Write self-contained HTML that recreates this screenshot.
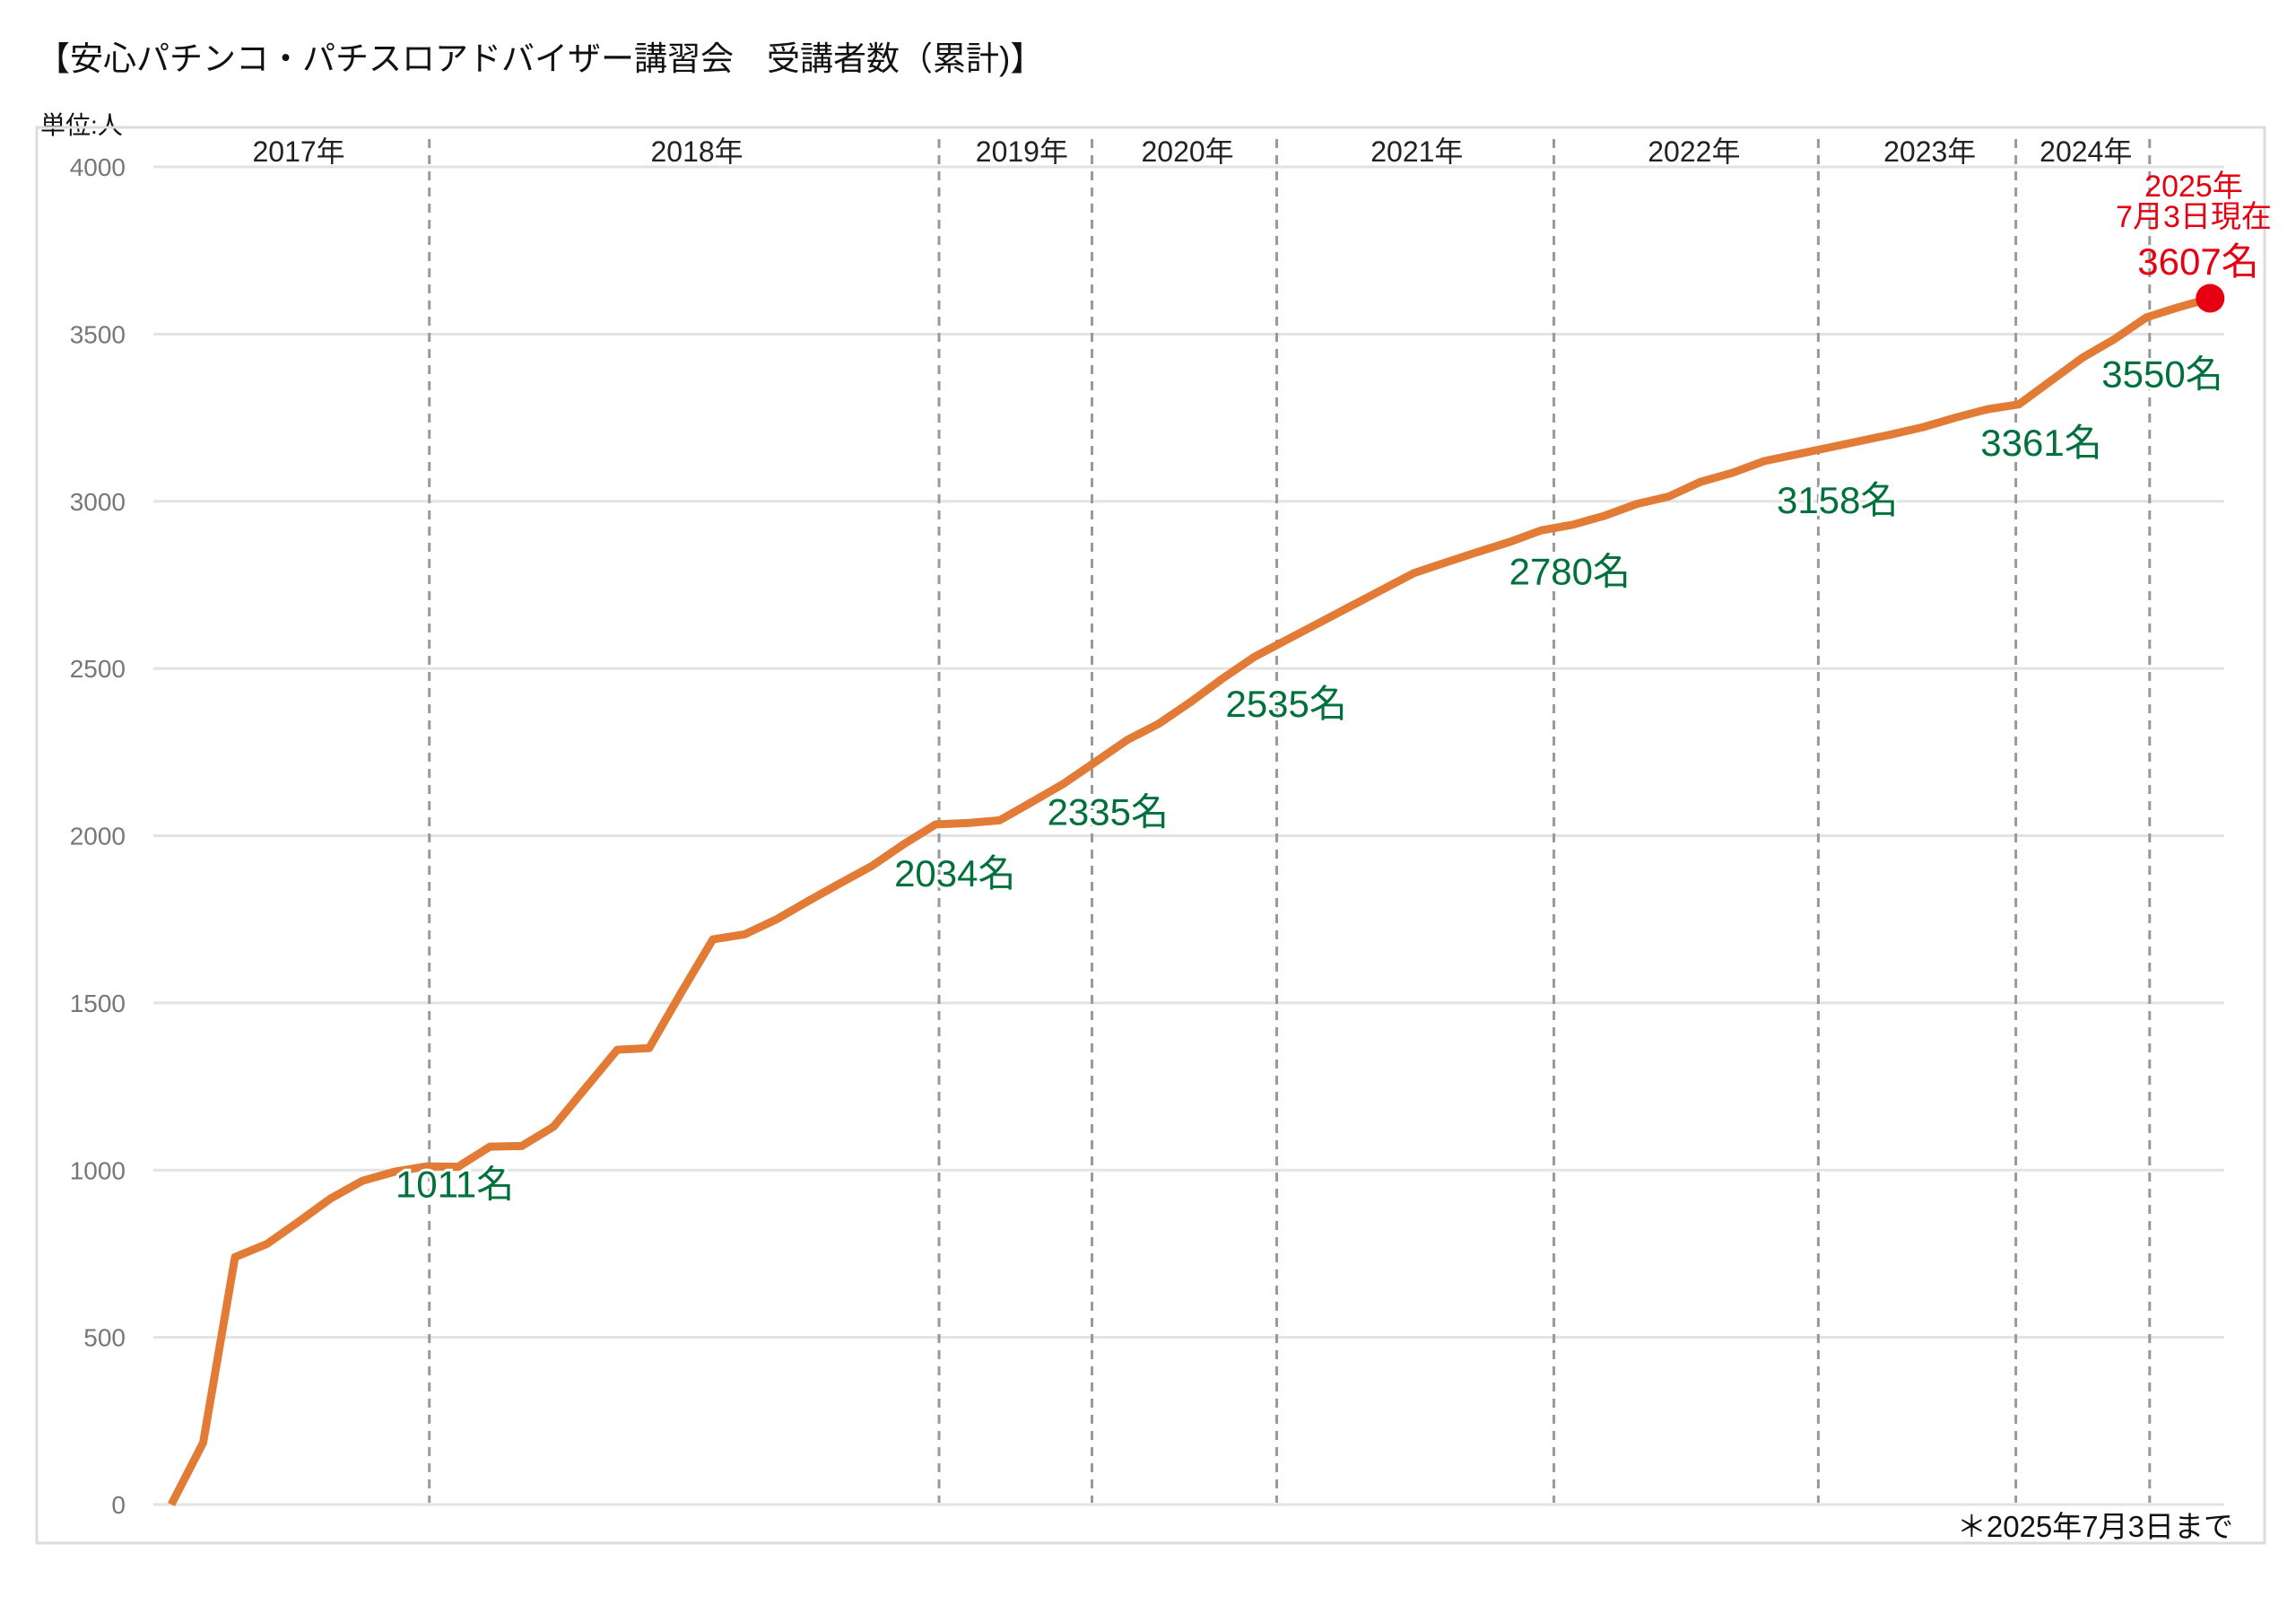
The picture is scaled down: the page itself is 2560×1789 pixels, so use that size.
<!DOCTYPE html>
<html><head><meta charset="utf-8">
<style>
html,body{margin:0;padding:0;background:#fff;}
svg{display:block;font-family:"Liberation Sans","Noto Sans CJK JP",sans-serif;}
</style></head>
<body>
<svg id="chart" width="2560" height="1789" viewBox="0 0 2560 1789">
<text x="41" y="78" font-size="37" fill="#111">【安心パチンコ・パチスロアドバイザー講習会　受講者数（累計)】</text>
<text x="45" y="149" font-size="28" fill="#111">単位:人</text>
<rect x="41" y="142" width="2484" height="1578" fill="none" stroke="#dcdcdc" stroke-width="3"/>
<g id="grid"></g>
<g id="dividers"></g>
<g id="line"></g>
<g id="labels"></g>
<text x="2490" y="1713" font-size="33" fill="#111" text-anchor="end">＊2025年7月3日まで</text>
</svg>
<script>
const values = [0,185,740,779,846,915,968,995,1011,1010,1070,1072,1130,1245,1360,1365,1530,1690,1705,1750,1805,1858,1910,1975,2034,2038,2046,2100,2155,2220,2286,2335,2400,2470,2535,2585,2635,2685,2735,2785,2817,2848,2878,2913,2930,2957,2992,3014,3058,3085,3120,3140,3160,3180,3200,3222,3250,3275,3290,3360,3430,3485,3550,3580,3607];
const yTicks = [0,500,1000,1500,2000,2500,3000,3500,4000];
const yearLabels = ["2017年","2018年","2019年","2020年","2021年","2022年","2023年","2024年"];
const yearLabelIdx = [4,16.5,26.7,31.9,39.1,47.8,55.2,60.1];
const dividerIdx = [8.1,24.1,28.9,34.7,43.4,51.7,57.9,62.1];
const annoText = ["1011名","2034名","2335名","2535名","2780名","3158名","3361名","3550名"];
const annoIdx = [8.9,24.6,29.4,35.0,43.9,52.3,58.7,62.5];
const annoVal = [959,1888,2072,2396,2791,3005,3176,3382];
const finalText = "3607名";

const ns="http://www.w3.org/2000/svg";
const X0=191, DX=35.52, Y0=1677, YS=(1677-186)/4000;
const xs=i=>X0+DX*i, ys=v=>Y0-v*YS;
function mk(tag,attrs,parent,txt){const e=document.createElementNS(ns,tag);for(const k in attrs)e.setAttribute(k,attrs[k]);if(txt!==undefined)e.textContent=txt;parent.appendChild(e);return e;}
const grid=document.getElementById('grid');
yTicks.forEach(t=>{
  const l=mk('line',{x1:171,x2:2480,y1:ys(t),y2:ys(t),stroke:'#e3e3e3','stroke-width':3},grid);
  
  
  const tx=mk('text',{x:140,y:ys(t)+10,'font-size':28,fill:'#777','text-anchor':'end'},grid,String(t));
  
  
});
const dv=document.getElementById('dividers');
dividerIdx.forEach((d,i)=>{
  const l=mk('line',{x1:xs(d),x2:xs(d),y1:155,y2:1675,stroke:'#999','stroke-width':3,'stroke-dasharray':'10 8'},dv);
  
  
});
yearLabels.forEach((s,i)=>{
  const t=mk('text',{x:xs(yearLabelIdx[i]),y:180,'font-size':32,fill:'#222','text-anchor':'middle'},dv,s);
  
  
});
const lg=document.getElementById('line');
const p=mk('polyline',{points:values.map((v,i)=>xs(i)+','+ys(v)).join(' '),fill:'none',stroke:'#E27B36','stroke-width':9,'stroke-linejoin':'round'},lg);


const last=values.length-1;
const dot=mk('circle',{cx:xs(last),cy:ys(values[last]),r:16,fill:'#E60012'},lg);


const lb=document.getElementById('labels');
annoText.forEach((s,i)=>{
  const t=mk('text',{x:xs(annoIdx[i]),y:ys(annoVal[i])+15,'font-size':42,fill:'#00703C','text-anchor':'middle',stroke:'#fff','stroke-width':6,'paint-order':'stroke'},lb,s);
  
  
});
const r1=mk('text',{x:2446,y:219,'font-size':34,fill:'#E60012','text-anchor':'middle'},lb,'2025年');


const r2=mk('text',{x:2446,y:253,'font-size':34,fill:'#E60012','text-anchor':'middle'},lb,'7月3日現在');


const r3=mk('text',{x:2451,y:306,'font-size':42,fill:'#E60012','text-anchor':'middle'},lb,finalText);


</script>
</body></html>
